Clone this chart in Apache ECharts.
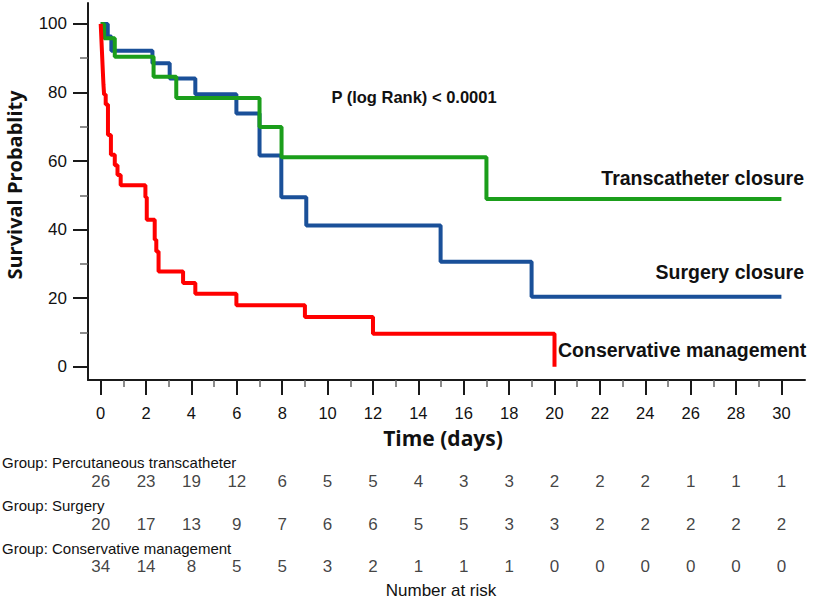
<!DOCTYPE html>
<html><head><meta charset="utf-8">
<script src="https://cdn.jsdelivr.net/npm/echarts@6/dist/echarts.min.js"></script>
<style>html,body{margin:0;padding:0;background:#fff}#c{width:813px;height:599px}</style>
</head><body><div id="c"></div>
<script>
// ---- Kaplan-Meier step data (time in days, survival %) ----
const transTime = [0, 0.15, 0.62, 2.33, 3.33, 7.0, 7.97, 17.0, 30];
const transSurv = [100, 95.8, 90.4, 84.6, 78.4, 69.9, 61.1, 48.9, 48.9];

const surgTime = [0, 0.31, 0.47, 2.28, 3.04, 4.17, 5.98, 7.0, 7.96, 9.06, 14.98, 18.99, 30];
const surgSurv = [100, 96.3, 92.2, 88.5, 84.1, 79.5, 73.9, 61.6, 49.4, 41.2, 30.6, 20.4, 20.4];

const consTime = [0, 0.02, 0.04, 0.06, 0.08, 0.10, 0.12, 0.15, 0.22, 0.32, 0.45, 0.62, 0.74, 0.88, 1.97, 2.03, 2.38, 2.45, 2.55, 3.63, 4.17, 5.98, 9.0, 12.0, 20.0];
const consSurv = [100, 97.1, 94.1, 91.2, 88.2, 85.3, 82.4, 79.4, 76.5, 67.6, 61.8, 58.8, 55.9, 52.9, 49.4, 42.9, 37.0, 33.6, 27.8, 24.4, 21.3, 17.9, 14.5, 9.6, 0];

// ---- axis ticks ----
const xTicksMajor = [0,2,4,6,8,10,12,14,16,18,20,22,24,26,28,30];
const xTicksMinor = [1,3,5,7,9,11,13,15,17,19,21,23,25,27,29];
const yTicksMajor = [0,20,40,60,80,100];
const yTicksMinor = [10,30,50,70,90];

// ---- number at risk table ----
const riskTimes = [0,2,4,6,8,10,12,14,16,18,20,22,24,26,28,30];
const riskGroups = ['Percutaneous transcatheter', 'Surgery', 'Conservative management'];
const riskTrans = [26,23,19,12,6,5,5,4,3,3,2,2,2,1,1,1];
const riskSurg  = [20,17,13,9,7,6,6,5,5,3,3,2,2,2,2,2];
const riskCons  = [34,14,8,5,5,3,2,1,1,1,0,0,0,0,0,0];

// ---- text ----
const seriesNames = ['Transcatheter closure', 'Surgery closure', 'Conservative management'];
const pText = 'P (log Rank) < 0.0001';

const X_MIN = -0.56, X_MAX = 31.04, Y_MIN = -3.88, Y_MAX = 106.1;
const AX = '#1a1a1a';
const FONT = '"Liberation Sans", Arial, sans-serif';

function zip(t, s) { return t.map((v, i) => [v, s[i]]); }

const riskData = [];
[riskTrans, riskSurg, riskCons].forEach((arr, gi) => {
  arr.forEach((n, i) => riskData.push([riskTimes[i], riskGroups[gi], n]));
});

const chart = echarts.init(document.getElementById('c'), null, {renderer: 'svg'});

function txt(text, x, y, font, align, extra) {
  return Object.assign({
    type: 'text', x: x, y: y,
    style: { text: text, font: font, fill: '#111', align: align, verticalAlign: 'middle',
             textAlign: align, textVerticalAlign: 'middle' }
  }, extra || {});
}

chart.setOption({
  animation: false,
  backgroundColor: '#fff',
  grid: [
    {left: 88, top: 3, width: 717, height: 377},
    {left: 88, top: 460.5, width: 717, height: 127.5}
  ],
  xAxis: [
    {gridIndex: 0, type: 'value', min: X_MIN, max: X_MAX, position: 'bottom',
     axisLine: {onZero: false, lineStyle: {color: AX, width: 2}},
     axisTick: {customValues: xTicksMajor, length: 15, lineStyle: {color: AX, width: 2}},
     axisLabel: {customValues: xTicksMajor, margin: 24, fontSize: 16.5, color: '#111', fontFamily: FONT},
     splitLine: {show: false}},
    {gridIndex: 0, type: 'value', min: X_MIN, max: X_MAX, position: 'bottom',
     axisLine: {show: false, onZero: false},
     axisTick: {customValues: xTicksMinor, length: 7, lineStyle: {color: '#666', width: 1.5}},
     axisLabel: {show: false}, splitLine: {show: false}},
    {gridIndex: 1, type: 'value', min: X_MIN, max: X_MAX, show: false}
  ],
  yAxis: [
    {gridIndex: 0, type: 'value', min: Y_MIN, max: Y_MAX, position: 'left',
     axisLine: {show: true, onZero: false, lineStyle: {color: AX, width: 2}},
     axisTick: {show: true, customValues: yTicksMajor, length: 15, lineStyle: {color: AX, width: 2}},
     axisLabel: {customValues: yTicksMajor, margin: 21, fontSize: 17, color: '#111', fontFamily: FONT},
     splitLine: {show: false}},
    {gridIndex: 0, type: 'value', min: Y_MIN, max: Y_MAX, position: 'left',
     axisLine: {show: false, onZero: false},
     axisTick: {show: true, customValues: yTicksMinor, length: 8, lineStyle: {color: '#666', width: 1.5}},
     axisLabel: {show: false}, splitLine: {show: false}},
    {gridIndex: 1, type: 'category', data: riskGroups, inverse: true, show: false}
  ],
  series: [
    {type: 'line', xAxisIndex: 0, yAxisIndex: 0, step: 'end', showSymbol: false, symbol: 'none',
     data: zip(surgTime, surgSurv), lineStyle: {color: '#1a5099', width: 4}, z: 3},
    {type: 'line', xAxisIndex: 0, yAxisIndex: 0, step: 'end', showSymbol: false, symbol: 'none',
     data: zip(transTime, transSurv), lineStyle: {color: '#1b9e1b', width: 4}, z: 4},
    {type: 'line', xAxisIndex: 0, yAxisIndex: 0, step: 'end', showSymbol: false, symbol: 'none',
     data: zip(consTime, consSurv), lineStyle: {color: '#ff0000', width: 4}, z: 5},
    {type: 'scatter', xAxisIndex: 2, yAxisIndex: 2, data: riskData, symbolSize: 1,
     itemStyle: {color: 'rgba(0,0,0,0)'},
     label: {show: true, position: 'inside', formatter: p => String(p.value[2]),
             fontSize: 17, color: '#111', fontFamily: FONT}}
  ],
  graphic: [
    txt('Survival Probablity', 14, 185, 'bold 20px "Open Sans", sans-serif', 'center', {rotation: Math.PI / 2}),
    txt('Time (days)', 443, 438, 'bold 21px "Open Sans", sans-serif', 'center'),
    txt(pText, 414, 97, 'bold 16.5px "Liberation Sans", Arial, sans-serif', 'center'),
    txt(seriesNames[0], 804, 178, 'bold 19.5px "Liberation Sans", Arial, sans-serif', 'right'),
    txt(seriesNames[1], 804, 272, 'bold 19.5px "Liberation Sans", Arial, sans-serif', 'right'),
    txt(seriesNames[2], 558, 350, 'bold 19.5px "Liberation Sans", Arial, sans-serif', 'left'),
    txt('Group: ' + riskGroups[0], 2, 462, '15px "Liberation Sans", Arial, sans-serif', 'left'),
    txt('Group: ' + riskGroups[1], 2, 505, '15px "Liberation Sans", Arial, sans-serif', 'left'),
    txt('Group: ' + riskGroups[2], 2, 548, '15px "Liberation Sans", Arial, sans-serif', 'left'),
    txt('Number at risk', 441, 590, '17px "Liberation Sans", Arial, sans-serif', 'center')
  ]
});
</script>
</body></html>
